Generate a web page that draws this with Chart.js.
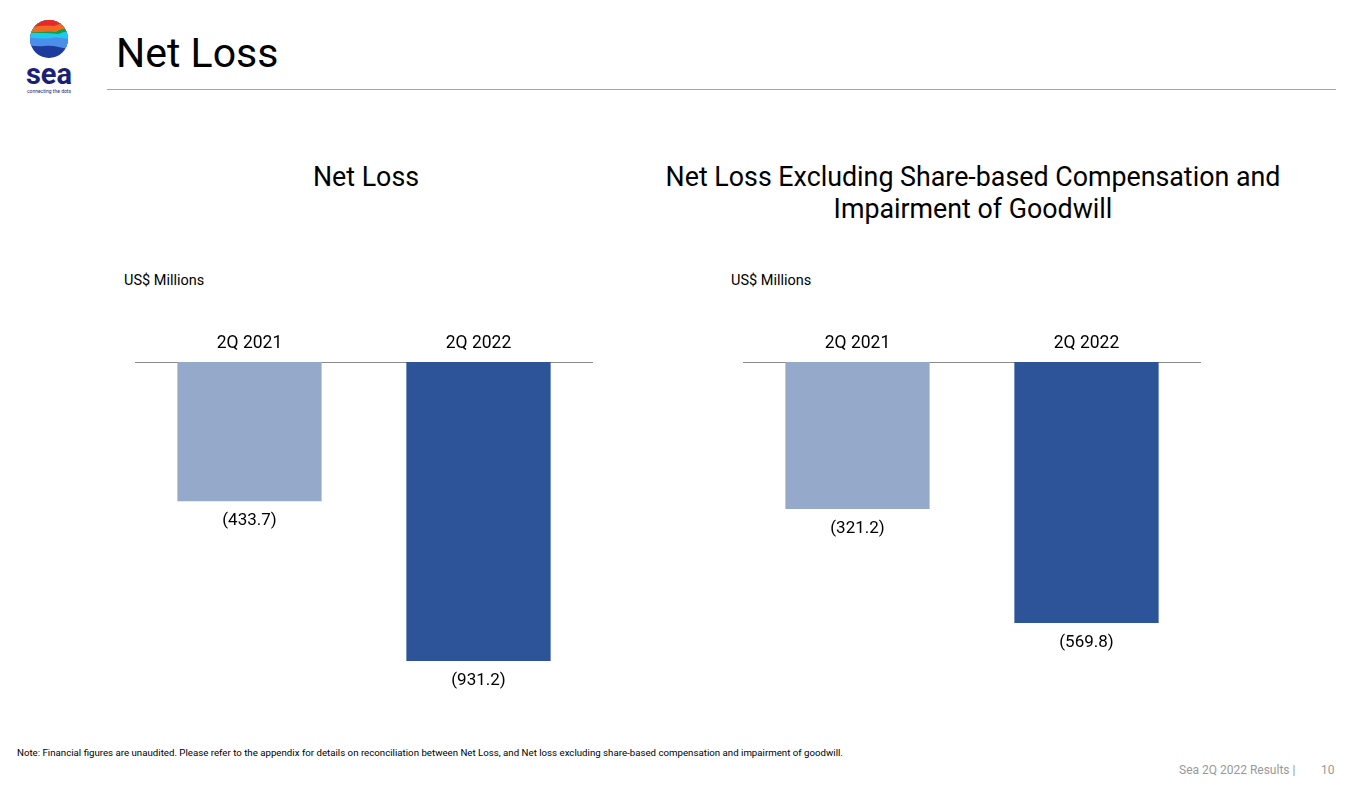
<!DOCTYPE html>
<html>
<head>
<meta charset="utf-8">
<script src="https://cdn.jsdelivr.net/npm/chart.js@4.4.0/dist/chart.umd.min.js"></script>
<style>
  html, body { margin: 0; padding: 0; background: #fff; }
  body { width: 1372px; height: 786px; position: relative; overflow: hidden; font-family: Roboto, "Open Sans", sans-serif; color: #000; }
  .abs { position: absolute; }
  #pageTitle { left: 116px; top: 28px; font-size: 41px; line-height: 50px; }
  #rule { left: 107px; top: 89px; width: 1229px; height: 0; border-top: 1.5px solid #8aa6dc; }
  .chartTitle { font-size: 26.8px; line-height: 32px; text-align: center; }
  .unit { font-size: 14.5px; }
  .wrap { position: absolute; }
  #note { left: 17px; top: 747px; font-size: 9.7px; white-space: nowrap; }
  #footer { left: 1179px; top: 763px; font-size: 12px; color: #999; }
  #pageNo { left: 1321px; top: 763px; font-size: 12px; color: #999; }
</style>
</head>
<body>

<!-- logo -->
<svg class="abs" style="left:18px;top:14px" width="64" height="82" viewBox="0 0 64 82">
  <defs><clipPath id="c"><circle cx="31" cy="25" r="19"/></clipPath></defs>
  <g clip-path="url(#c)">
    <rect x="0" y="0" width="64" height="60" fill="#1d3b9c"/>
    <path d="M0 0 H64 V34 C50 38 40 30 26 32 C16 33 8 30 0 32 Z" fill="#4c8fea"/>
    <path d="M0 0 H64 V26 C54 28 46 22 34 24 C22 26 10 22 0 24 Z" fill="#22c9ec"/>
    <path d="M0 0 H64 V20 C58 20 54 16 46 18 L40 20 C30 18 12 20 0 18 Z" fill="#0aa14c"/>
    <path d="M0 0 H64 V14 C56 16 46 12 38 18 C28 16 14 20 0 18 Z" fill="#f26a22"/>
    <path d="M0 0 H64 V10 C54 10 44 8 36 12 C26 10 12 14 0 14 Z" fill="#e8262d"/>
  </g>
  <text x="31" y="70" text-anchor="middle" font-family="Roboto, sans-serif" font-weight="700" font-size="29" fill="#1b1f78">sea</text>
  <text x="31" y="79" text-anchor="middle" font-family="Roboto, sans-serif" font-size="5" fill="#1b1f78">connecting the dots</text>
</svg>

<div id="pageTitle" class="abs">Net Loss</div>
<div id="rule" class="abs"></div>

<div class="abs chartTitle" style="left:166px;top:161px;width:400px;">Net Loss</div>
<div class="abs chartTitle" style="left:573px;top:161px;width:800px;">Net Loss Excluding Share-based Compensation and<br>Impairment of Goodwill</div>

<div class="abs unit" style="left:124px;top:272px;">US$ Millions</div>
<div class="abs unit" style="left:731px;top:272px;">US$ Millions</div>

<div class="wrap" style="left:135px;top:322px;width:458px;height:380px;"><canvas id="leftChart"></canvas></div>
<div class="wrap" style="left:743px;top:322px;width:458px;height:380px;"><canvas id="rightChart"></canvas></div>

<div id="note" class="abs">Note: Financial figures are unaudited. Please refer to the appendix for details on reconciliation between Net Loss, and Net loss excluding share-based compensation and impairment of goodwill.</div>
<div id="footer" class="abs">Sea 2Q 2022 Results |</div>
<div id="pageNo" class="abs">10</div>

<script>
const categories = ["2Q 2021", "2Q 2022"];
const netLoss = [-433.7, -931.2];
const netLossExSbc = [-321.2, -569.8];
const barColors = ["#95aacb", "#2d5399"];

const FONT = 'Roboto, "Open Sans", sans-serif';

// write "(433.7)" under each bar
const valueLabels = {
  id: "valueLabels",
  afterDatasetsDraw(chart) {
    const ctx = chart.ctx;
    const meta = chart.getDatasetMeta(0);
    ctx.save();
    ctx.font = "17px " + FONT;
    ctx.fillStyle = "#000";
    ctx.textAlign = "center";
    ctx.textBaseline = "middle";
    meta.data.forEach((bar, i) => {
      const v = chart.data.datasets[0].data[i];
      ctx.fillText("(" + Math.abs(v).toFixed(1) + ")", bar.x, bar.y + 20);
    });
    ctx.restore();
  }
};

function makeChart(id, values, yMin) {
  return new Chart(document.getElementById(id), {
    type: "bar",
    data: {
      labels: categories,
      datasets: [{
        data: values,
        backgroundColor: barColors,
        borderWidth: 0,
        barPercentage: 0.63,
        categoryPercentage: 1
      }]
    },
    options: {
      responsive: true,
      maintainAspectRatio: false,
      animation: false,
      layout: { padding: 0 },
      plugins: { legend: { display: false }, tooltip: { enabled: false } },
      scales: {
        x: {
          position: "top",
          grid: { display: false, drawTicks: false },
          border: { display: true, color: "#8c8c8c", width: 1 },
          ticks: { color: "#000", font: { family: FONT, size: 17.5 }, padding: 8 },
          afterFit: (scale) => { scale.height = 40; }
        },
        y: { display: false, min: yMin, max: 0 }
      }
    },
    plugins: [valueLabels]
  });
}

makeChart("leftChart", netLoss, -340 / 0.321);
makeChart("rightChart", netLossExSbc, -340 / 0.458);
</script>
</body>
</html>
